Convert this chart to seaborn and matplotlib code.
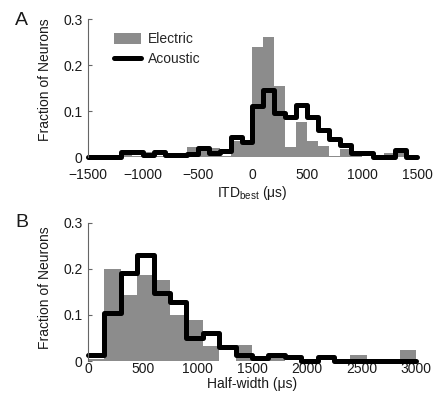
import numpy as np
import pandas as pd
import matplotlib
matplotlib.use('Agg')
import matplotlib.pyplot as plt
import seaborn as sns
from matplotlib.patches import Patch
from matplotlib.lines import Line2D

# Panel A: ITD best, 100 us bins from -1500 to 1500
itd_edges = list(range(-1500, 1501, 100))
itd_electric = [0, 0, 0, 0.010, 0.003, 0.010, 0.003, 0.006, 0.006, 0.022,
                0.012, 0.020, 0.003, 0.034, 0.026, 0.240, 0.262, 0.155, 0.022, 0.077,
                0.035, 0.023, 0.002, 0.017, 0.005, 0, 0, 0.009, 0.009, 0]
itd_acoustic = [0, 0, 0, 0.010, 0.010, 0.004, 0.010, 0.004, 0.004, 0.006,
                0.019, 0.008, 0.012, 0.043, 0.033, 0.110, 0.145, 0.095, 0.088, 0.113,
                0.087, 0.058, 0.040, 0.026, 0.009, 0.009, 0, 0, 0.016, 0]

# Panel B: half-width, 150 us bins from 0 to 3000
hw_edges = list(range(0, 3001, 150))
hw_electric = [0.004, 0.199, 0.143, 0.187, 0.176, 0.099, 0.088, 0.033, 0, 0.035,
               0.005, 0.006, 0, 0, 0, 0, 0.013, 0, 0, 0.024]
hw_acoustic = [0.013, 0.104, 0.190, 0.230, 0.147, 0.129, 0.049, 0.060, 0.030, 0.013,
               0.007, 0.013, 0.008, 0, 0.009, 0, 0, 0, 0, 0]

gray = '#8c8c8c'

sns.set_style('ticks')
plt.rcParams['font.family'] = ['Liberation Sans', 'DejaVu Sans']
plt.rcParams['mathtext.fontset'] = 'custom'
plt.rcParams['mathtext.rm'] = 'Liberation Sans'
plt.rcParams['font.size'] = 10

fig = plt.figure(figsize=(4.33, 4.05), dpi=100)
axA = fig.add_axes([0.2032, 0.6123, 0.7598, 0.3407])
axB = fig.add_axes([0.2032, 0.1086, 0.7575, 0.3415])


def draw_panel(ax, edges, electric, acoustic):
    e = np.array(edges, dtype=float)
    df = pd.DataFrame({'center': (e[:-1] + e[1:]) / 2,
                       'electric': electric, 'acoustic': acoustic})
    sns.histplot(data=df, x='center', weights='electric', bins=edges, stat='count',
                 element='bars', color=gray, alpha=1, linewidth=0, ax=ax)
    sns.histplot(data=df, x='center', weights='acoustic', bins=edges, stat='count',
                 element='step', fill=False, color='black', linewidth=3.6,
                 clip_on=False, ax=ax)
    ax.set_xlim(edges[0], edges[-1])
    ax.set_ylim(0, 0.3)
    ax.set_yticks([0, 0.1, 0.2, 0.3])
    ax.set_yticklabels(['0', '0.1', '0.2', '0.3'])
    for s in ['top', 'right', 'bottom']:
        ax.spines[s].set_visible(False)
    ax.spines['left'].set_color('#666666')
    ax.spines['left'].set_linewidth(0.8)
    ax.tick_params(axis='y', direction='in', length=3, width=0.8,
                   color='#666666', labelsize=10, pad=4, labelcolor='#1a1a1a')
    ax.tick_params(axis='x', length=0, labelsize=10, labelcolor='#1a1a1a')
    ax.set_ylabel('Fraction of Neurons', fontsize=10, color='#1a1a1a')


draw_panel(axA, itd_edges, itd_electric, itd_acoustic)
axA.set_xticks(np.arange(-1500, 1501, 500))
axA.tick_params(axis='x', pad=8)
axA.set_xlabel('ITD$_{\\rm best}$ (μs)', fontsize=10, color='#1a1a1a')
axA.xaxis.set_label_coords(0.5, -0.195)
axA.yaxis.set_label_coords(-0.11, 0.558)

handles = [Patch(facecolor=gray, edgecolor='none', label='Electric'),
           Line2D([0], [0], color='black', linewidth=3.6, label='Acoustic')]
axA.legend(handles=handles, loc='upper left', bbox_to_anchor=(0.08, 0.905),
           frameon=False, fontsize=10, handlelength=1.95, handleheight=0.9,
           handletextpad=0.45, labelspacing=0.45, borderpad=0, borderaxespad=0)

draw_panel(axB, hw_edges, hw_electric, hw_acoustic)
axB.set_xticks(np.arange(0, 3001, 500))
axB.tick_params(axis='x', pad=0.5)
axB.set_xlabel('Half-width (μs)', fontsize=10, color='#1a1a1a')
axB.xaxis.set_label_coords(0.5, -0.115)
axB.yaxis.set_label_coords(-0.11, 0.53)

fig.text(0.035, 0.938, 'A', fontsize=14, color='#1a1a1a')
fig.text(0.035, 0.44, 'B', fontsize=14, color='#1a1a1a')

fig.savefig('out.png', dpi=100)
